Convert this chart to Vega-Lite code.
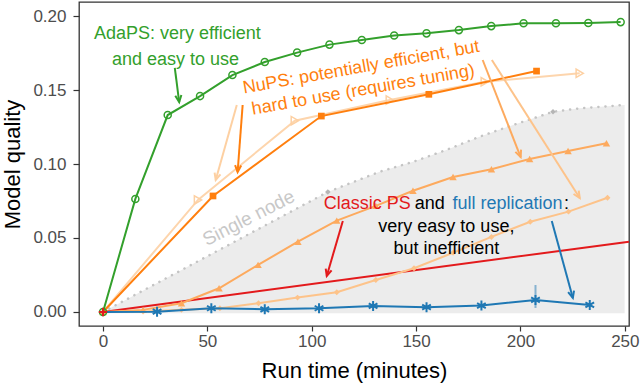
{
  "$schema": "https://vega.github.io/schema/vega-lite/v6.json",
  "width": 550,
  "height": 324,
  "autosize": {"type": "none"},
  "padding": {"left": 79, "top": 2, "right": 11, "bottom": 60},
  "config": {
    "font": "Liberation Sans",
    "view": {"stroke": "#333333", "strokeWidth": 1.3},
    "axis": {"grid": false, "domain": false, "tickColor": "#333333", "tickWidth": 1.2, "labelColor": "#4d4d4d", "labelFontSize": 17, "titleFontSize": 22, "titleFontWeight": "normal", "titleColor": "#000000", "labelFlush": false}
  },
  "datasets": {
    "series": [
      {"s": "AdaPS", "x": 0, "y": 0}, {"s": "AdaPS", "x": 15.5, "y": 0.0764}, {"s": "AdaPS", "x": 31, "y": 0.1331}, {"s": "AdaPS", "x": 46.5, "y": 0.1459}, {"s": "AdaPS", "x": 62, "y": 0.1601}, {"s": "AdaPS", "x": 77.5, "y": 0.1689}, {"s": "AdaPS", "x": 93, "y": 0.1753}, {"s": "AdaPS", "x": 108.5, "y": 0.1807}, {"s": "AdaPS", "x": 124, "y": 0.1838}, {"s": "AdaPS", "x": 139.5, "y": 0.1868}, {"s": "AdaPS", "x": 155, "y": 0.1883}, {"s": "AdaPS", "x": 170.5, "y": 0.1905}, {"s": "AdaPS", "x": 186, "y": 0.1932}, {"s": "AdaPS", "x": 201.5, "y": 0.1951}, {"s": "AdaPS", "x": 217, "y": 0.1951}, {"s": "AdaPS", "x": 232.5, "y": 0.1953}, {"s": "AdaPS", "x": 248, "y": 0.1959},
      {"s": "NuPSsq", "x": 0, "y": 0}, {"s": "NuPSsq", "x": 52.7, "y": 0.0784}, {"s": "NuPSsq", "x": 104.6, "y": 0.1324}, {"s": "NuPSsq", "x": 156.1, "y": 0.1471}, {"s": "NuPSsq", "x": 207.7, "y": 0.1628},
      {"s": "NuPSpale", "x": 0, "y": 0}, {"s": "NuPSpale", "x": 45.5, "y": 0.0757}, {"s": "NuPSpale", "x": 91.9, "y": 0.1293}, {"s": "NuPSpale", "x": 137.4, "y": 0.1432}, {"s": "NuPSpale", "x": 182.9, "y": 0.1556}, {"s": "NuPSpale", "x": 228.4, "y": 0.1613},
      {"s": "NuPSmed", "x": 0, "y": 0}, {"s": "NuPSmed", "x": 19.2, "y": 0.0014}, {"s": "NuPSmed", "x": 37.6, "y": 0.0059}, {"s": "NuPSmed", "x": 55.6, "y": 0.016}, {"s": "NuPSmed", "x": 74.3, "y": 0.0318}, {"s": "NuPSmed", "x": 93.4, "y": 0.0475}, {"s": "NuPSmed", "x": 112, "y": 0.0617}, {"s": "NuPSmed", "x": 130.7, "y": 0.0717}, {"s": "NuPSmed", "x": 148.5, "y": 0.0819}, {"s": "NuPSmed", "x": 167.7, "y": 0.0912}, {"s": "NuPSmed", "x": 186.1, "y": 0.0964}, {"s": "NuPSmed", "x": 204.4, "y": 0.1034}, {"s": "NuPSmed", "x": 222.8, "y": 0.1088}, {"s": "NuPSmed", "x": 241.2, "y": 0.114},
      {"s": "NuPSdia", "x": 0, "y": 0}, {"s": "NuPSdia", "x": 19.2, "y": 0.0003}, {"s": "NuPSdia", "x": 37.6, "y": 0.0014}, {"s": "NuPSdia", "x": 56, "y": 0.0025}, {"s": "NuPSdia", "x": 74.5, "y": 0.0059}, {"s": "NuPSdia", "x": 93.2, "y": 0.0097}, {"s": "NuPSdia", "x": 112, "y": 0.0133}, {"s": "NuPSdia", "x": 130.7, "y": 0.0216}, {"s": "NuPSdia", "x": 149, "y": 0.0295}, {"s": "NuPSdia", "x": 167.7, "y": 0.04}, {"s": "NuPSdia", "x": 186.1, "y": 0.0507}, {"s": "NuPSdia", "x": 204.7, "y": 0.061}, {"s": "NuPSdia", "x": 223, "y": 0.0678}, {"s": "NuPSdia", "x": 241.7, "y": 0.0772},
      {"s": "Classic", "x": 0, "y": 0}, {"s": "Classic", "x": 252, "y": 0.0475},
      {"s": "Full", "x": 0, "y": 0}, {"s": "Full", "x": 25.9, "y": 0.0002}, {"s": "Full", "x": 51.9, "y": 0.0025}, {"s": "Full", "x": 77.5, "y": 0.0018}, {"s": "Full", "x": 103.5, "y": 0.0025}, {"s": "Full", "x": 129.4, "y": 0.0041}, {"s": "Full", "x": 155, "y": 0.0032}, {"s": "Full", "x": 181.3, "y": 0.0043}, {"s": "Full", "x": 207.2, "y": 0.0081}, {"s": "Full", "x": 233.2, "y": 0.0047},
      {"s": "Single", "x": 0, "y": 0}, {"s": "Single", "x": 107.7, "y": 0.0811}, {"s": "Single", "x": 132.6, "y": 0.0948}, {"s": "Single", "x": 148.6, "y": 0.1015}, {"s": "Single", "x": 164.5, "y": 0.1095}, {"s": "Single", "x": 180.5, "y": 0.1185}, {"s": "Single", "x": 196.5, "y": 0.1264}, {"s": "Single", "x": 215.6, "y": 0.1353}, {"s": "Single", "x": 228.4, "y": 0.1376}, {"s": "Single", "x": 249.9, "y": 0.1399}
    ],
    "err": [{"x": 207.2, "lo": 0.0027, "hi": 0.0182}],
    "arrows": [
      {"g": "ada", "x": 34.4, "y": 0.1649, "x2": 36.5, "y2": 0.1419},
      {"g": "nups", "x": 66.9, "y": 0.1399, "x2": 64.5, "y2": 0.0946},
      {"g": "pale", "x": 64.1, "y": 0.1399, "x2": 54.0, "y2": 0.0892},
      {"g": "med", "x": 181.9, "y": 0.1703, "x2": 200.1, "y2": 0.1047},
      {"g": "dia", "x": 186.3, "y": 0.1703, "x2": 228.4, "y2": 0.077},
      {"g": "classic", "x": 114.9, "y": 0.0615, "x2": 107.2, "y2": 0.0243},
      {"g": "full", "x": 215.0, "y": 0.0615, "x2": 225.1, "y2": 0.0095}
    ],
    "labels": [
      {"g": "ada", "t": "AdaPS: very efficient", "x": 35.6, "y": 0.1845},
      {"g": "ada", "t": "and easy to use", "x": 34.7, "y": 0.1669},
      {"g": "nups", "t": "NuPS: potentially efficient, but", "x": 124.1, "y": 0.1618},
      {"g": "nups", "t": "hard to use (requires tuning)", "x": 125.1, "y": 0.1466},
      {"g": "single", "t": "Single node", "x": 69.8, "y": 0.0635},
      {"g": "classic", "t": "Classic PS", "x": 105.8, "y": 0.0696},
      {"g": "blackleft", "t": "and", "x": 149.4, "y": 0.0696},
      {"g": "full", "t": "full replication", "x": 167.4, "y": 0.0696},
      {"g": "blackleft", "t": ":", "x": 220.8, "y": 0.0696},
      {"g": "black", "t": "very easy to use,", "x": 164.5, "y": 0.0541},
      {"g": "black", "t": "but inefficient", "x": 164.5, "y": 0.0392}
    ]
  },
  "encoding": {
    "x": {"field": "x", "type": "quantitative", "scale": {"domain": [-11.5, 252], "nice": false, "zero": false}, "axis": {"title": "Run time (minutes)", "values": [0, 50, 100, 150, 200, 250], "tickSize": 5, "labelPadding": 2, "titlePadding": 11}},
    "y": {"field": "y", "type": "quantitative", "scale": {"domain": [-0.0095, 0.2095], "nice": false, "zero": false}, "axis": {"title": "Model quality", "values": [0, 0.05, 0.1, 0.15, 0.2], "format": ".2f", "tickSize": 6, "labelPadding": 7, "titlePadding": 8}}
  },
  "layer": [
    {"data": {"name": "series"}, "transform": [{"filter": "datum.s === 'Single'"}], "mark": {"type": "area", "color": "#ececec", "opacity": 1}, "encoding": {"y2": {"datum": -0.0008}}},
    {"data": {"name": "series"}, "transform": [{"filter": "datum.s === 'Single'"}], "mark": {"type": "line", "color": "#c4c4c4", "strokeWidth": 2.5, "strokeDash": [0.1, 7], "strokeCap": "round"}, "encoding": {}},
    {"data": {"name": "series"}, "transform": [{"filter": "datum.s === 'Single' && (datum.x === 107.7 || datum.x === 215.6)"}], "mark": {"type": "point", "shape": "diamond", "filled": true, "size": 30, "color": "#b5b5b5", "opacity": 1}},
    {"data": {"name": "labels"}, "transform": [{"filter": "datum.g === 'single'"}], "mark": {"type": "text", "align": "center", "baseline": "middle", "angle": 333, "fontSize": 19, "color": "#c8c8c8"}, "encoding": {"text": {"field": "t"}}},
    {"data": {"name": "series"}, "transform": [{"filter": "datum.s === 'Classic'"}], "mark": {"type": "line", "color": "#e31a1c", "strokeWidth": 2}, "encoding": {}},
    {"data": {"name": "series"}, "transform": [{"filter": "datum.s === 'NuPSdia'"}], "mark": {"type": "line", "color": "#fdc38a", "strokeWidth": 2}, "encoding": {}},
    {"data": {"name": "series"}, "transform": [{"filter": "datum.s === 'NuPSdia'"}], "mark": {"type": "point", "shape": "diamond", "filled": true, "size": 35, "color": "#fdc38a", "opacity": 1}},
    {"data": {"name": "series"}, "transform": [{"filter": "datum.s === 'NuPSmed'"}], "mark": {"type": "line", "color": "#fdaa5e", "strokeWidth": 2}, "encoding": {}},
    {"data": {"name": "series"}, "transform": [{"filter": "datum.s === 'NuPSmed'"}], "mark": {"type": "point", "shape": "triangle-up", "filled": true, "size": 55, "color": "#fdaa5e", "opacity": 1}},
    {"data": {"name": "series"}, "transform": [{"filter": "datum.s === 'Full'"}], "mark": {"type": "line", "color": "#1f78b4", "strokeWidth": 2}, "encoding": {}},
    {"data": {"name": "err"}, "mark": {"type": "rule", "color": "#1f78b4", "opacity": 0.5, "strokeWidth": 2}, "encoding": {"y": {"field": "lo", "type": "quantitative"}, "y2": {"field": "hi"}}},
    {"data": {"name": "series"}, "transform": [{"filter": "datum.s === 'Full' && datum.x > 0"}], "mark": {"type": "point", "shape": "M0,-1L0,1M-0.87,-0.5L0.87,0.5M-0.87,0.5L0.87,-0.5", "filled": false, "size": 100, "strokeWidth": 2, "color": "#1f78b4", "opacity": 1}},
    {"data": {"name": "series"}, "transform": [{"filter": "datum.s === 'NuPSpale'"}], "mark": {"type": "line", "color": "#fdd5ad", "strokeWidth": 2}, "encoding": {}},
    {"data": {"name": "series"}, "transform": [{"filter": "datum.s === 'NuPSpale' && datum.x > 0"}], "mark": {"type": "point", "shape": "triangle-right", "filled": false, "size": 70, "strokeWidth": 1.5, "color": "#fdd0a2", "opacity": 1}},
    {"data": {"name": "series"}, "transform": [{"filter": "datum.s === 'NuPSsq'"}], "mark": {"type": "line", "color": "#ff7f0e", "strokeWidth": 2}, "encoding": {}},
    {"data": {"name": "series"}, "transform": [{"filter": "datum.s === 'NuPSsq' && datum.x > 0"}], "mark": {"type": "point", "shape": "square", "filled": true, "size": 45, "color": "#ff7f0e", "opacity": 1}},
    {"data": {"name": "series"}, "transform": [{"filter": "datum.s === 'AdaPS'"}], "mark": {"type": "line", "color": "#33a02c", "strokeWidth": 2}, "encoding": {}},
    {"data": {"name": "series"}, "transform": [{"filter": "datum.s === 'AdaPS'"}], "mark": {"type": "point", "shape": "circle", "filled": false, "size": 50, "strokeWidth": 1.5, "color": "#33a02c", "opacity": 1}},
    {"data": {"name": "series"}, "transform": [{"filter": "datum.s === 'Classic' && datum.x === 0"}], "mark": {"type": "point", "shape": "M-1,0L1,0M0,-1L0,1", "filled": false, "size": 70, "strokeWidth": 2, "color": "#e31a1c", "opacity": 1}},
    {"data": {"name": "arrows"}, "mark": {"type": "rule", "strokeWidth": 2}, "encoding": {"x2": {"field": "x2"}, "y2": {"field": "y2"}, "color": {"field": "g", "type": "nominal", "legend": null, "scale": {"domain": ["ada", "nups", "pale", "med", "dia", "classic", "full"], "range": ["#33a02c", "#ff7f0e", "#fdd0a2", "#fdaa5e", "#fdc38a", "#e31a1c", "#1f78b4"]}}}},
    {"data": {"name": "arrows"}, "transform": [{"calculate": "atan2((datum.x2 - datum.x) * 2.087, (datum.y2 - datum.y) * 1480) * 180 / PI", "as": "ang"}], "mark": {"type": "point", "shape": "M-0.5,1.1L0,0L0.5,1.1", "filled": false, "size": 150, "strokeWidth": 2, "opacity": 1}, "encoding": {"x": {"field": "x2", "type": "quantitative"}, "y": {"field": "y2", "type": "quantitative"}, "angle": {"field": "ang", "type": "quantitative", "scale": null}, "color": {"field": "g", "type": "nominal", "legend": null}}},
    {"data": {"name": "labels"}, "transform": [{"filter": "datum.g === 'ada'"}], "mark": {"type": "text", "align": "center", "baseline": "alphabetic", "fontSize": 18, "color": "#33a02c"}, "encoding": {"text": {"field": "t"}}},
    {"data": {"name": "labels"}, "transform": [{"filter": "datum.g === 'nups'"}], "mark": {"type": "text", "align": "center", "baseline": "alphabetic", "angle": 350, "fontSize": 18, "color": "#ff7f0e"}, "encoding": {"text": {"field": "t"}}},
    {"data": {"name": "labels"}, "transform": [{"filter": "datum.g === 'classic'"}], "mark": {"type": "text", "align": "left", "baseline": "alphabetic", "fontSize": 18, "color": "#e31a1c"}, "encoding": {"text": {"field": "t"}}},
    {"data": {"name": "labels"}, "transform": [{"filter": "datum.g === 'full'"}], "mark": {"type": "text", "align": "left", "baseline": "alphabetic", "fontSize": 18, "color": "#1f78b4"}, "encoding": {"text": {"field": "t"}}},
    {"data": {"name": "labels"}, "transform": [{"filter": "datum.g === 'blackleft'"}], "mark": {"type": "text", "align": "left", "baseline": "alphabetic", "fontSize": 18, "color": "#000000"}, "encoding": {"text": {"field": "t"}}},
    {"data": {"name": "labels"}, "transform": [{"filter": "datum.g === 'black'"}], "mark": {"type": "text", "align": "center", "baseline": "alphabetic", "fontSize": 18, "color": "#000000"}, "encoding": {"text": {"field": "t"}}}
  ]
}
